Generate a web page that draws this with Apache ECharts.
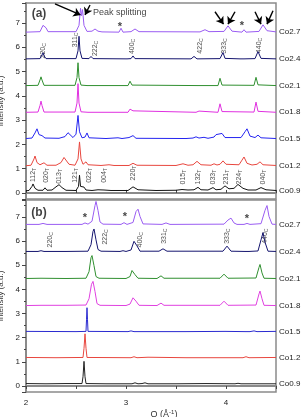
<!DOCTYPE html>
<html>
<head>
<meta charset="utf-8">
<script src="https://cdn.jsdelivr.net/npm/echarts@6/dist/echarts.min.js"></script>
<style>html,body{margin:0;padding:0;background:#fff}#main{width:306px;height:417px}</style>
</head>
<body>
<div id="main"></div>
<script>
// sample names, bottom to top
var names = ['Co0.9', 'Co1.2', 'Co1.5', 'Co1.8', 'Co2.1', 'Co2.4', 'Co2.7'];
var colorsA = ['#111111', '#e8463e', '#2424f0', '#e030e0', '#2f8f2f', '#14146e', '#9a5cf2'];
var colorsB = ['#222222', '#e8463e', '#2a2ad0', '#e040e0', '#2f8f2f', '#14146e', '#9a5cf2'];
var offsetsA = [0.07, 1.1, 2.22, 3.3, 4.4, 5.5, 6.6];
var offsetsB = [0.08, 1.16, 2.24, 3.31, 4.43, 5.55, 6.67];

// panel (a): [Q, intensity above baseline]
var a_Co09 = [[2.00,0.02],[2.03,0.03],[2.06,0.2],[2.07,0.3],[2.09,0.12],[2.12,0.04],[2.17,0.04],[2.19,0.14],[2.21,0.04],[2.26,0.05],[2.30,0.18],[2.33,0.27],[2.36,0.15],[2.40,0.04],[2.50,0.03],[2.525,0.2],[2.535,0.66],[2.545,0.2],[2.565,0.12],[2.58,0.17],[2.60,0.05],[2.66,0.03],[2.72,0.06],[2.78,0.05],[2.85,0.03],[3.02,0.03],[3.07,0.18],[3.09,0.24],[3.12,0.06],[3.30,0.03],[3.50,0.04],[3.56,0.07],[3.62,0.05],[3.68,0.06],[3.72,0.16],[3.75,0.06],[3.82,0.05],[3.87,0.15],[3.90,0.06],[3.95,0.08],[3.99,0.22],[4.03,0.1],[4.08,0.12],[4.12,0.28],[4.14,0.33],[4.17,0.12],[4.22,0.05],[4.30,0.05],[4.35,0.15],[4.37,0.18],[4.40,0.06],[4.50,0.03]];
var a_Co12 = [[2.00,0.02],[2.05,0.04],[2.08,0.3],[2.09,0.42],[2.11,0.15],[2.14,0.06],[2.18,0.14],[2.21,0.04],[2.30,0.04],[2.35,0.15],[2.38,0.36],[2.40,0.3],[2.43,0.08],[2.49,0.04],[2.52,0.3],[2.535,1.0],[2.55,0.3],[2.57,0.08],[2.60,0.18],[2.62,0.06],[2.75,0.03],[2.83,0.06],[2.88,0.03],[3.03,0.03],[3.07,0.12],[3.08,0.15],[3.11,0.04],[3.50,0.03],[3.57,0.1],[3.62,0.04],[3.67,0.06],[3.71,0.2],[3.75,0.06],[3.85,0.04],[3.88,0.1],[3.91,0.05],[3.94,0.08],[3.97,0.22],[4.00,0.08],[4.13,0.06],[4.16,0.25],[4.18,0.38],[4.21,0.12],[4.26,0.05],[4.31,0.08],[4.34,0.18],[4.37,0.06],[4.50,0.03]];
var a_Co15 = [[2.00,0.02],[2.06,0.04],[2.09,0.25],[2.11,0.42],[2.13,0.18],[2.16,0.14],[2.19,0.04],[2.33,0.03],[2.39,0.1],[2.42,0.26],[2.44,0.22],[2.47,0.06],[2.50,0.2],[2.52,0.97],[2.535,0.3],[2.56,0.05],[2.59,0.08],[2.61,0.25],[2.63,0.05],[2.80,0.02],[2.92,0.05],[2.96,0.02],[3.03,0.06],[3.05,0.04],[3.07,0.14],[3.10,0.03],[3.60,0.02],[3.67,0.04],[3.70,0.09],[3.73,0.04],[3.78,0.07],[3.82,0.03],[3.88,0.08],[3.90,0.18],[3.92,0.1],[3.96,0.23],[3.99,0.06],[4.15,0.06],[4.19,0.3],[4.21,0.42],[4.24,0.12],[4.29,0.06],[4.32,0.16],[4.35,0.05],[4.50,0.02]];
var a_Co18 = [[2.00,0.02],[2.12,0.03],[2.14,0.3],[2.15,0.48],[2.16,0.3],[2.18,0.03],[2.49,0.03],[2.51,0.4],[2.52,1.2],[2.53,0.4],[2.55,0.04],[2.62,0.02],[2.64,0.07],[2.66,0.02],[3.02,0.02],[3.04,0.15],[3.05,0.22],[3.07,0.08],[3.09,0.02],[3.70,0.02],[3.73,0.07],[3.75,0.02],[3.92,0.02],[3.94,0.37],[3.96,0.05],[4.28,0.03],[4.30,0.44],[4.32,0.06],[4.50,0.02]];
var a_Co21 = [[2.00,0.02],[2.12,0.03],[2.14,0.25],[2.15,0.38],[2.16,0.25],[2.18,0.03],[2.49,0.03],[2.51,0.35],[2.52,0.96],[2.53,0.35],[2.55,0.04],[2.61,0.02],[2.63,0.1],[2.65,0.02],[3.02,0.02],[3.04,0.2],[3.06,0.04],[3.71,0.02],[3.73,0.1],[3.75,0.02],[3.92,0.02],[3.94,0.32],[3.96,0.04],[4.28,0.03],[4.30,0.36],[4.32,0.05],[4.50,0.02]];
var a_Co24 = [[2.00,0.02],[2.14,0.03],[2.16,0.18],[2.17,0.27],[2.18,0.15],[2.20,0.03],[2.50,0.03],[2.52,0.35],[2.53,0.95],[2.54,0.35],[2.56,0.04],[2.63,0.03],[2.65,0.12],[2.67,0.03],[3.01,0.02],[3.03,0.08],[3.05,0.03],[3.07,0.14],[3.09,0.03],[3.65,0.02],[3.68,0.12],[3.71,0.02],[3.94,0.03],[3.97,0.28],[3.99,0.04],[4.14,0.02],[4.16,0.06],[4.18,0.02],[4.29,0.03],[4.32,0.32],[4.35,0.04],[4.50,0.02]];
var a_Co27 = [[2.00,0.02],[2.14,0.04],[2.17,0.3],[2.18,0.36],[2.20,0.2],[2.22,0.04],[2.50,0.04],[2.53,0.3],[2.545,1.0],[2.555,0.7],[2.565,0.95],[2.58,0.3],[2.61,0.05],[2.66,0.06],[2.69,0.15],[2.72,0.06],[2.76,0.03],[2.93,0.02],[2.95,0.18],[2.97,0.02],[3.05,0.04],[3.09,0.15],[3.13,0.04],[3.74,0.03],[3.79,0.12],[3.83,0.04],[3.98,0.05],[4.02,0.28],[4.06,0.06],[4.16,0.02],[4.18,0.12],[4.20,0.02],[4.33,0.05],[4.37,0.32],[4.41,0.08],[4.50,0.03]];

// panel (b)
var b_Co09 = [[2.00,0.02],[2.20,0.01],[2.40,0.02],[2.56,0.02],[2.57,0.3],[2.58,0.94],[2.59,0.3],[2.60,0.02],[2.80,0.01],[3.06,0.01],[3.09,0.05],[3.12,0.01],[3.16,0.02],[3.19,0.05],[3.22,0.01],[3.50,0.01],[3.80,0.02],[4.09,0.01],[4.12,0.03],[4.15,0.01],[4.50,0.01]];
var b_Co12 = [[2.00,0.02],[2.30,0.01],[2.57,0.02],[2.58,0.4],[2.59,1.0],[2.60,0.4],[2.61,0.02],[3.05,0.01],[3.08,0.05],[3.11,0.01],[3.22,0.03],[3.60,0.01],[4.17,0.01],[4.20,0.05],[4.23,0.01],[4.50,0.02]];
var b_Co15 = [[2.00,0.02],[2.50,0.01],[2.60,0.02],[2.605,0.5],[2.61,1.0],[2.615,0.5],[2.62,0.02],[3.02,0.01],[3.05,0.04],[3.08,0.01],[3.60,0.01],[3.99,0.02],[4.19,0.01],[4.21,0.07],[4.24,0.01],[4.28,0.04],[4.31,0.01],[4.50,0.02]];
var b_Co18 = [[2.00,0.02],[2.15,0.03],[2.40,0.03],[2.60,0.04],[2.63,0.3],[2.655,0.9],[2.67,1.02],[2.69,0.6],[2.71,0.1],[2.74,0.03],[3.00,0.02],[3.04,0.08],[3.07,0.34],[3.08,0.37],[3.10,0.2],[3.13,0.03],[3.31,0.02],[3.35,0.12],[3.38,0.03],[3.94,0.03],[3.98,0.2],[3.99,0.22],[4.02,0.03],[4.30,0.04],[4.33,0.5],[4.34,0.62],[4.36,0.3],[4.38,0.03],[4.50,0.02]];
var b_Co21 = [[2.00,0.02],[2.15,0.03],[2.40,0.02],[2.60,0.03],[2.63,0.3],[2.65,0.88],[2.66,0.97],[2.68,0.55],[2.70,0.1],[2.73,0.03],[3.00,0.02],[3.04,0.1],[3.06,0.35],[3.07,0.37],[3.09,0.18],[3.12,0.03],[3.31,0.02],[3.35,0.13],[3.38,0.03],[3.94,0.03],[3.98,0.2],[3.99,0.23],[4.02,0.03],[4.30,0.04],[4.33,0.48],[4.34,0.6],[4.36,0.25],[4.38,0.03],[4.50,0.02]];
var b_Co24 = [[2.00,0.02],[2.12,0.02],[2.15,0.05],[2.18,0.02],[2.40,0.02],[2.62,0.03],[2.65,0.3],[2.67,0.85],[2.68,0.95],[2.70,0.5],[2.72,0.1],[2.75,0.03],[2.94,0.02],[2.97,0.05],[3.00,0.02],[3.05,0.08],[3.08,0.44],[3.09,0.48],[3.11,0.25],[3.14,0.03],[3.33,0.03],[3.37,0.13],[3.41,0.03],[3.97,0.03],[4.01,0.24],[4.02,0.26],[4.05,0.03],[4.19,0.02],[4.21,0.05],[4.23,0.02],[4.32,0.04],[4.35,0.5],[4.37,0.8],[4.39,0.4],[4.42,0.03],[4.50,0.02]];
var b_Co27 = [[2.00,0.02],[2.13,0.02],[2.17,0.06],[2.21,0.02],[2.40,0.02],[2.56,0.02],[2.59,0.08],[2.62,0.03],[2.66,0.15],[2.69,0.8],[2.70,0.97],[2.72,0.6],[2.74,0.12],[2.77,0.03],[2.95,0.02],[2.98,0.09],[3.01,0.02],[3.07,0.1],[3.10,0.55],[3.12,0.65],[3.14,0.35],[3.17,0.04],[3.36,0.02],[3.40,0.08],[3.44,0.02],[3.98,0.03],[4.02,0.2],[4.05,0.28],[4.08,0.08],[4.11,0.02],[4.18,0.02],[4.21,0.06],[4.24,0.02],[4.35,0.05],[4.39,0.6],[4.41,0.8],[4.43,0.35],[4.46,0.03],[4.50,0.02]];

var curvesA = [a_Co09, a_Co12, a_Co15, a_Co18, a_Co21, a_Co24, a_Co27];
var curvesB = [b_Co09, b_Co12, b_Co15, b_Co18, b_Co21, b_Co24, b_Co27];

// reflection labels: [hkl, phase, Q, y]
var hklA = [['220','C',2.17,5.85],['311','C',2.49,6.3],['222','C',2.69,5.95],['400','C',3.06,6.03],['422','C',3.74,6.05],['333','C',3.98,6.05],['440','C',4.33,6.07],
  ['112','T',2.07,0.74],['020','T',2.20,0.72],['013','T',2.33,0.68],['121','T',2.49,0.72],['022','T',2.63,0.72],['004','T',2.78,0.72],['220','T',3.07,0.82],
  ['015','T',3.57,0.65],['132','T',3.72,0.65],['033','T',3.87,0.65],['231','T',4.00,0.65],['224','T',4.13,0.65],['040','T',4.37,0.65]];
var hklB = [['220','C',2.24,6.05],['222','C',2.79,6.17],['400','C',3.14,6.05],['331','C',3.38,6.2],['333','C',4.01,6.2],['440','C',4.39,6.2]];
var starsA = [[2.94,6.85],[4.16,6.88]];
var starsB = [[2.59,6.97],[2.99,7.0],[4.21,6.9]];
// arrows: [Q0, y0, Q1, y1]
var arrowsA = [[2.29,7.78,2.545,7.33],[2.64,7.74,2.59,7.33],[3.89,7.46,3.975,6.95],[4.09,7.46,4.02,6.95],[4.29,7.46,4.35,6.95],[4.47,7.5,4.41,6.95]];

var axisGray = '#8a8a8a';
var txt = '#222';

var chartDom = document.getElementById('main');
var myChart = echarts.init(chartDom);

function intLabel(v) { return Math.abs(v - Math.round(v)) < 1e-6 ? String(Math.round(v)) : ''; }

function yAxisFor(gi, min, max) {
  return {
    gridIndex: gi, type: 'value', min: min, max: max, splitNumber: 8,
    name: 'Intensity (a.u.)', nameLocation: 'middle', nameGap: 15,
    nameTextStyle: { fontSize: 8, color: '#333', fontFamily: 'Liberation Sans' },
    axisLine: { show: true, lineStyle: { color: axisGray, width: 2 } },
    axisTick: { show: true, length: 4, lineStyle: { color: '#444', width: 1 } },
    minorTick: { show: true, splitNumber: 2, length: 2, lineStyle: { color: '#444' } },
    axisLabel: { fontSize: 8, color: txt, margin: 6, formatter: intLabel, fontFamily: 'Liberation Sans' },
    splitLine: { show: false }
  };
}

function lineSeries(curves, offsets, colors, gi) {
  return curves.map(function (c, i) {
    return {
      name: names[i], type: 'line', xAxisIndex: gi, yAxisIndex: gi,
      showSymbol: false, symbol: 'none', animation: false, silent: true,
      lineStyle: { color: colors[i], width: 1 },
      data: c.map(function (p) { return [p[0], p[1] + offsets[i]]; }),
      endLabel: { show: true, formatter: names[i], fontSize: 8, color: txt, distance: 3, fontFamily: 'Liberation Sans' }
    };
  });
}

function hklData(list) {
  return list.map(function (h) {
    return { value: [h[2], h[3]], label: { formatter: '{n|' + h[0] + '}{s|' + h[1] + '}' } };
  });
}

var hklLabel = {
  show: true, position: 'inside', rotate: 90, color: '#222',
  rich: {
    n: { fontSize: 7, fontFamily: 'Liberation Sans', color: '#222' },
    s: { fontSize: 5, fontFamily: 'Liberation Sans', color: '#222', padding: [3, 0, 0, 0] }
  }
};

function starData(list) {
  return list.map(function (s) { return { value: s }; });
}

option = {
  animation: false,
  grid: [
    { left: 26, right: 30, top: 3, height: 196, show: true, borderColor: axisGray, borderWidth: 1.5, outerBoundsMode: 'none', containLabel: false },
    { left: 26, right: 30, top: 200, height: 192, show: true, borderColor: axisGray, borderWidth: 1.5, outerBoundsMode: 'none', containLabel: false }
  ],
  xAxis: [
    {
      gridIndex: 0, type: 'value', min: 2, max: 4.5, interval: 0.5,
      axisLine: { show: true, lineStyle: { color: axisGray, width: 2 } },
      axisTick: { show: true, inside: true, length: 3, lineStyle: { color: '#444' } },
      axisLabel: { show: false }, splitLine: { show: false }
    },
    {
      gridIndex: 1, type: 'value', min: 2, max: 4.5, interval: 0.5,
      name: '{a|Q (Å}{s|-1}{a|)}', nameLocation: 'middle', nameGap: 17,
      nameTextStyle: {
        padding: [0, 0, 0, 26],
        rich: { a: { fontSize: 9, color: '#333', fontFamily: 'Liberation Sans' },
                s: { fontSize: 6, color: '#333', fontFamily: 'Liberation Sans', padding: [0, 0, 5, 0] } }
      },
      axisLine: { show: true, lineStyle: { color: axisGray, width: 2 } },
      axisTick: { show: true, length: 3, lineStyle: { color: '#444' } },
      axisLabel: { fontSize: 8, color: txt, margin: 7, formatter: intLabel, fontFamily: 'Liberation Sans' },
      splitLine: { show: false }
    }
  ],
  yAxis: [yAxisFor(0, -0.25, 7.82), yAxisFor(1, -0.25, 7.7)],
  series: lineSeries(curvesA, offsetsA, colorsA, 0)
    .concat(lineSeries(curvesB, offsetsB, colorsB, 1))
    .concat([
      {
        type: 'scatter', xAxisIndex: 0, yAxisIndex: 0, symbolSize: 0, silent: true,
        label: hklLabel, data: hklData(hklA),
        markLine: {
          silent: true, animation: false, symbol: ['none', 'arrow'], symbolSize: 7,
          lineStyle: { color: '#000', width: 1.4, type: 'solid' },
          label: { show: false },
          data: arrowsA.map(function (a) { return [{ coord: [a[0], a[1]] }, { coord: [a[2], a[3]] }]; })
        }
      },
      {
        type: 'scatter', xAxisIndex: 1, yAxisIndex: 1, symbolSize: 0, silent: true,
        label: hklLabel, data: hklData(hklB)
      },
      {
        type: 'scatter', xAxisIndex: 0, yAxisIndex: 0, symbolSize: 0, silent: true,
        label: { show: true, position: 'inside', formatter: '*', fontSize: 11, fontWeight: 'bold', color: '#111' },
        data: starData(starsA)
      },
      {
        type: 'scatter', xAxisIndex: 1, yAxisIndex: 1, symbolSize: 0, silent: true,
        label: { show: true, position: 'inside', formatter: '*', fontSize: 11, fontWeight: 'bold', color: '#111' },
        data: starData(starsB)
      },
      {
        type: 'scatter', xAxisIndex: 0, yAxisIndex: 0, symbolSize: 0, silent: true,
        data: [
          { value: [2.13, 7.37], label: { show: true, position: 'inside', formatter: '(a)', fontSize: 12, fontWeight: 'bold', color: '#111' } },
          { value: [2.67, 7.42], label: { show: true, position: 'right', distance: 0, formatter: 'Peak splitting', fontSize: 9, color: '#111' } }
        ]
      },
      {
        type: 'scatter', xAxisIndex: 1, yAxisIndex: 1, symbolSize: 0, silent: true,
        data: [
          { value: [2.13, 7.17], label: { show: true, position: 'inside', formatter: '(b)', fontSize: 12, fontWeight: 'bold', color: '#111' } }
        ]
      }
    ])
};

option && myChart.setOption(option);
</script>
</body>
</html>
